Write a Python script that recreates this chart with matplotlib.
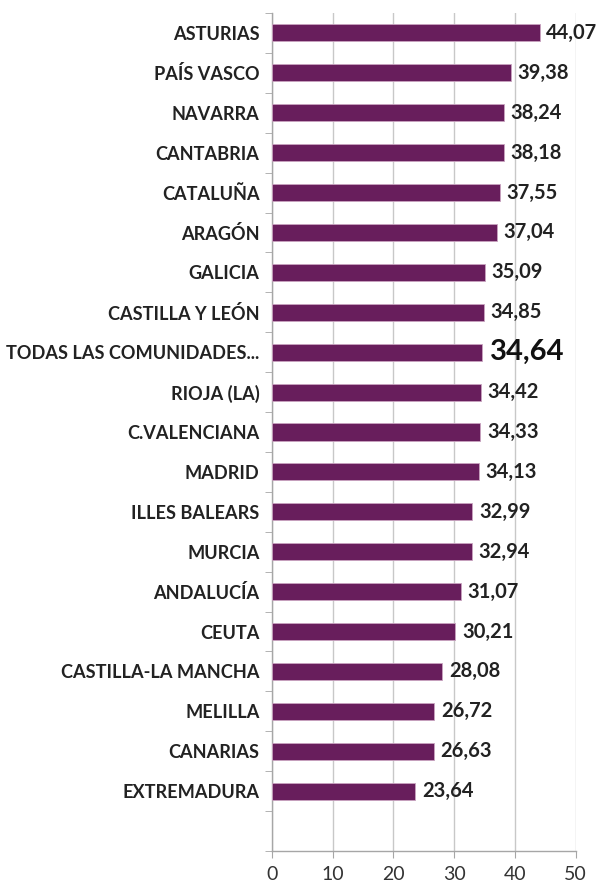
import matplotlib.pyplot as plt
import numpy as np

regions = ['ASTURIAS', 'PAÍS VASCO', 'NAVARRA', 'CANTABRIA', 'CATALUÑA', 'ARAGÓN',
           'GALICIA', 'CASTILLA Y LEÓN', 'TODAS LAS COMUNIDADES...', 'RIOJA (LA)',
           'C.VALENCIANA', 'MADRID', 'ILLES BALEARS', 'MURCIA', 'ANDALUCÍA', 'CEUTA',
           'CASTILLA-LA MANCHA', 'MELILLA', 'CANARIAS', 'EXTREMADURA']
values = [44.07, 39.38, 38.24, 38.18, 37.55, 37.04, 35.09, 34.85, 34.64, 34.42,
          34.33, 34.13, 32.99, 32.94, 31.07, 30.21, 28.08, 26.72, 26.63, 23.64]
total_label = 'TODAS LAS COMUNIDADES...'
x_ticks = [0, 10, 20, 30, 40, 50]

plt.rcParams['font.family'] = ['Lato', 'DejaVu Sans']

fig = plt.figure(figsize=(6.03, 8.82), dpi=100)
ax = fig.add_axes([0.451, 0.0351, 0.5034, 0.9502])

n_slots = len(regions) + 1  # one empty slot at the bottom, like the original
y = np.arange(len(regions))
bar_color = '#681E5C'
ax.barh(y, values, height=0.43, color=bar_color, edgecolor='#C9A3C0', linewidth=0.6, zorder=3)

for yi, v, name in zip(y, values, regions):
    txt = f'{v:.2f}'.replace('.', ',')
    if name == total_label:
        ax.text(v + 1.3, yi, txt, va='center', ha='left', fontsize=21, fontweight='bold',
                color='#111111')
    else:
        ax.text(v + 1.1, yi, txt, va='center', ha='left', fontsize=14.5, fontweight='bold',
                color='#222222')

ax.set_ylim(n_slots - 0.5, -0.5)
ax.set_xlim(0, 50)
ax.set_yticks(y)
ax.set_yticklabels(regions, fontsize=13.1, fontweight='bold', color='#222222')
ax.tick_params(axis='y', length=0, pad=9)
# category boundary tick marks
ax.set_yticks(np.arange(-0.5, n_slots, 1.0), minor=True)
ax.tick_params(axis='y', which='minor', length=5, color='#A6A6A6', direction='out')

ax.set_xticks(x_ticks)
ax.set_xticklabels([str(t) for t in x_ticks], fontsize=14, color='#333333')
ax.tick_params(axis='x', length=5, color='#A6A6A6', pad=6)

ax.grid(axis='x', color='#C8C8C8', linewidth=1.0, zorder=0)
for side in ['top', 'right']:
    ax.spines[side].set_visible(False)
for side in ['left', 'bottom']:
    ax.spines[side].set_color('#A6A6A6')
    ax.spines[side].set_linewidth(1.0)

fig.savefig('out.png', dpi=100)
